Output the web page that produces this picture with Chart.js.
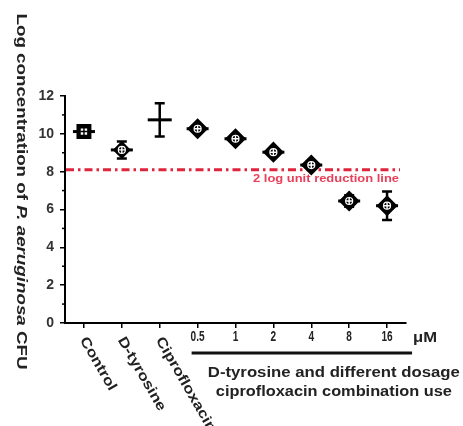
<!DOCTYPE html>
<html>
<head>
<meta charset="utf-8">
<script src="https://cdn.jsdelivr.net/npm/chart.js@4/dist/chart.umd.min.js"></script>
<style>
html,body{margin:0;padding:0;background:#fff;}
#wrap{width:463px;height:426px;position:relative;}
</style>
</head>
<body>
<div id="wrap"><canvas id="c"></canvas></div>
<script>
// ---- data ----
const categories = ['Control','D-tyrosine','Ciprofloxacin','0.5','1','2','4','8','16'];
const means = [10.12, 9.15, 10.74, 10.27, 9.74, 9.03, 8.35, 6.45, 6.2];
const errs  = [0.15, 0.45, 0.88, 0.15, 0.15, 0.15, 0.2, 0.3, 0.75];
const yTicks = [0, 2, 4, 6, 8, 10, 12];
const reductionLine = 8.1;
const reductionLabel = '2 log unit reduction line';
const yTitleParts = ['Log concentration of ', 'P. aeruginosa', ' CFU'];
const groupLabel = ['D-tyrosine and different dosage', 'ciprofloxacin combination use'];
const unitLabel = 'μM';
const rotatedCount = 3;

const FONT = '"Liberation Sans", Arial, sans-serif';
const markerStyles = ['rect','rectRot',false,'rectRot','rectRot','rectRot','rectRot','rectRot','rectRot'];

function fitText(ctx, text, x, y, font, sx, align, color) {
  ctx.save();
  ctx.font = font;
  ctx.fillStyle = color;
  ctx.textAlign = align;
  ctx.textBaseline = 'middle';
  ctx.translate(x, y);
  ctx.scale(sx, 1);
  ctx.fillText(text, 0, 0);
  ctx.restore();
}
function fitWidth(ctx, text, x, y, font, w, align, color) {
  ctx.save(); ctx.font = font; const m = ctx.measureText(text).width; ctx.restore();
  fitText(ctx, text, x, y, font, w / m, align, color);
}

const decor = {
  id: 'decor',
  beforeDatasetsDraw(chart) {
    const ctx = chart.ctx, xs = chart.scales.x, ys = chart.scales.y, ca = chart.chartArea;
    // minor y ticks
    ctx.save();
    ctx.strokeStyle = '#000'; ctx.lineWidth = 1.5;
    for (let v = 1; v < 12; v += 2) {
      const py = ys.getPixelForValue(v);
      ctx.beginPath(); ctx.moveTo(ca.left - 3, py); ctx.lineTo(ca.left, py); ctx.stroke();
    }
    ctx.restore();
    // red reduction line
    const ry = ys.getPixelForValue(reductionLine);
    ctx.save();
    ctx.strokeStyle = '#e0243c'; ctx.lineWidth = 3;
    ctx.setLineDash([8, 4, 2.5, 4]);
    ctx.beginPath(); ctx.moveTo(ca.left + 1, ry); ctx.lineTo(ca.right - 6, ry); ctx.stroke();
    ctx.restore();
    fitWidth(ctx, reductionLabel, ca.right - 7, ry + 9, 'bold 10px ' + FONT, 146, 'right', '#e8405a');
    // error bars
    ctx.save();
    ctx.strokeStyle = '#000'; ctx.lineWidth = 2.5;
    means.forEach((m, i) => {
      const px = xs.getPixelForValue(i);
      const t = ys.getPixelForValue(m + errs[i]);
      const b = ys.getPixelForValue(m - errs[i]);
      ctx.beginPath();
      ctx.moveTo(px, t); ctx.lineTo(px, b);
      ctx.moveTo(px - 5, t); ctx.lineTo(px + 5, t);
      ctx.moveTo(px - 5, b); ctx.lineTo(px + 5, b);
      ctx.stroke();
    });
    ctx.restore();
  },
  afterDraw(chart) {
    const ctx = chart.ctx, xs = chart.scales.x, ys = chart.scales.y, ca = chart.chartArea;
    // x labels
    categories.forEach((c, i) => {
      const px = xs.getPixelForValue(i);
      if (i < rotatedCount) {
        ctx.save();
        ctx.font = 'bold 14px ' + FONT;
        ctx.fillStyle = '#222';
        ctx.textAlign = 'left'; ctx.textBaseline = 'middle';
        ctx.translate(px - 1, ca.bottom + 15);
        ctx.rotate(Math.PI / 3);
        ctx.scale(1.2, 1);
        ctx.fillText(c, 0, 0);
        ctx.restore();
      } else {
        fitText(ctx, c, px, ca.bottom + 14, 'bold 14px ' + FONT, 0.72, 'center', '#222');
      }
    });
    // unit
    fitWidth(ctx, unitLabel, ca.right + 7, ca.bottom + 15, 'bold 14px ' + FONT, 24, 'left', '#222');
    // group bracket
    const x0 = xs.getPixelForValue(rotatedCount) - 6;
    const x1 = xs.getPixelForValue(categories.length - 1) + 25;
    const by = ca.bottom + 30;
    ctx.save();
    ctx.fillStyle = '#111';
    ctx.fillRect(x0, by - 1.5, x1 - x0, 3);
    ctx.restore();
    const cx = (x0 + x1) / 2 + 32;
    fitWidth(ctx, groupLabel[0], cx, by + 20, 'bold 14px ' + FONT, 252, 'center', '#222');
    fitWidth(ctx, groupLabel[1], cx, by + 39, 'bold 14px ' + FONT, 236, 'center', '#222');
    // y title (reads top to bottom)
    ctx.save();
    const fonts = ['bold 14px ' + FONT, 'italic bold 14px ' + FONT, 'bold 14px ' + FONT];
    const widths = yTitleParts.map((p, k) => { ctx.font = fonts[k]; return ctx.measureText(p).width; });
    const total = widths.reduce((a, b) => a + b, 0);
    const target = 356, sx = target / total;
    ctx.translate(21, (ys.getPixelForValue(12) + ys.getPixelForValue(0)) / 2 - 18);
    ctx.rotate(Math.PI / 2);
    ctx.scale(sx, 1);
    ctx.fillStyle = '#222';
    ctx.textBaseline = 'middle'; ctx.textAlign = 'left';
    let off = -total / 2;
    yTitleParts.forEach((p, k) => { ctx.font = fonts[k]; ctx.fillText(p, off, 0); off += widths[k]; });
    ctx.restore();
  }
};

new Chart(document.getElementById('c'), {
  type: 'line',
  data: {
    labels: categories,
    datasets: [
      { label: 'crossInner', data: means, showLine: false, order: 1,
        pointStyle: 'cross',
        pointRadius: means.map((m, i) => markerStyles[i] ? 3.5 : 0),
        pointBorderColor: means.map((m, i) => i === 0 ? '#000' : '#fff'),
        pointBorderWidth: 1.4, pointHoverRadius: 0 },
      { label: 'inner', data: means, showLine: false, order: 2,
        pointStyle: means.map((m, i) => i === 0 ? 'rect' : 'circle'),
        pointRadius: means.map((m, i) => i === 0 ? 4.5 : (markerStyles[i] ? 3.5 : 0)),
        pointBackgroundColor: means.map((m, i) => i === 0 ? '#fff' : 'rgba(0,0,0,0)'),
        pointBorderColor: means.map((m, i) => i === 0 ? 'rgba(0,0,0,0)' : '#fff'),
        pointBorderWidth: 1.2, pointHoverRadius: 0 },
      { label: 'marker', data: means, showLine: false, order: 3,
        pointStyle: markerStyles.map(s => s || 'circle'),
        pointRadius: markerStyles.map((s, i) => !s ? 0 : (s === 'rect' ? 9.5 : (i === 1 ? 8 : 9.5))),
        pointBackgroundColor: '#000', pointBorderColor: '#000', pointBorderWidth: 1.5, pointHoverRadius: 0 },
      { label: 'mean', data: means, showLine: false, order: 4,
        pointStyle: 'line',
        pointRadius: means.map((m, i) => i === 2 ? 12 : 11),
        pointBorderColor: '#000', pointBorderWidth: 3, pointHoverRadius: 0 }
    ]
  },
  options: {
    responsive: true,
    maintainAspectRatio: false,
    animation: false,
    events: [],
    layout: { padding: { top: 96, right: 57, left: 0, bottom: 0 } },
    plugins: { legend: { display: false }, tooltip: { enabled: false }, title: { display: false } },
    scales: {
      x: {
        type: 'category',
        offset: true,
        afterFit(scale) { scale.height = 103; },
        grid: { drawOnChartArea: false, drawTicks: true, tickLength: 5, color: '#000', lineWidth: 1.5 },
        border: { display: true, color: '#000', width: 2 },
        ticks: { callback: () => '', autoSkip: false, maxRotation: 0, minRotation: 0 }
      },
      y: {
        min: 0, max: 12,
        afterFit(scale) { scale.width = 65; },
        afterBuildTicks(scale) { scale.ticks = yTicks.map(v => ({ value: v })); },
        grid: { drawOnChartArea: false, drawTicks: true, tickLength: 5, color: '#000', lineWidth: 1.5 },
        border: { display: true, color: '#000', width: 2 },
        ticks: { font: { family: FONT, weight: 'bold', size: 14 }, color: '#333', padding: 6 }
      }
    }
  },
  plugins: [decor]
});
</script>
</body>
</html>
